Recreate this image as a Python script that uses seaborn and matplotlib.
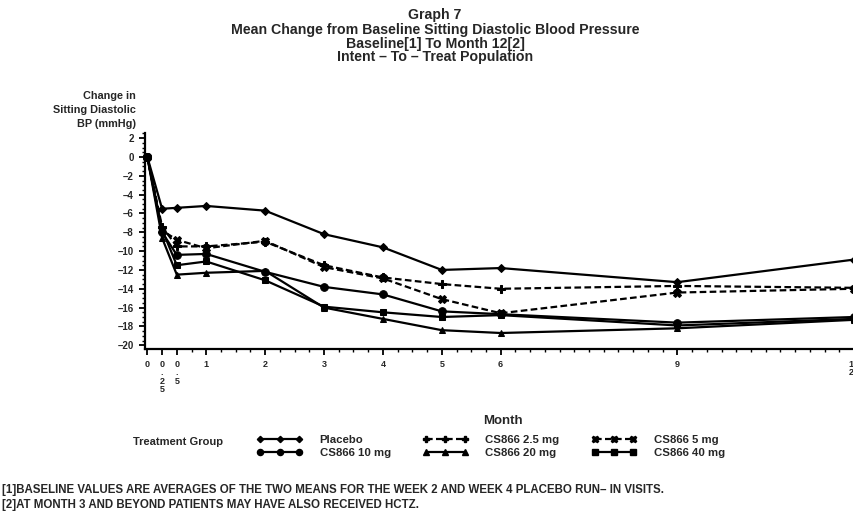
import numpy as np
import pandas as pd
import matplotlib
matplotlib.use("Agg")
import matplotlib.pyplot as plt
from matplotlib.lines import Line2D
from matplotlib.ticker import MultipleLocator
import seaborn as sns

# Visit months (baseline, weeks 1 and 2, then monthly visits)
months = [0, 0.25, 0.5, 1, 2, 3, 4, 5, 6, 9, 12]

# Mean change from baseline in sitting diastolic BP (mmHg)
placebo = [0, -5.5, -5.4, -5.2, -5.7, -8.2, -9.6, -12.0, -11.8, -13.3, -10.9]
cs866_2_5 = [0, -7.4, -9.5, -9.5, -9.0, -11.5, -12.8, -13.5, -14.0, -13.7, -13.9]
cs866_5 = [0, -7.8, -8.8, -9.7, -8.9, -11.7, -12.9, -15.1, -16.6, -14.4, -14.0]
cs866_10 = [0, -8.0, -10.4, -10.3, -12.2, -13.8, -14.6, -16.4, -16.7, -17.6, -17.0]
cs866_20 = [0, -8.6, -12.5, -12.3, -12.1, -16.0, -17.2, -18.4, -18.7, -18.2, -17.3]
cs866_40 = [0, -7.7, -11.5, -11.1, -13.1, -15.9, -16.5, -17.0, -16.8, -17.9, -17.2]

groups = ["Placebo", "CS866 2.5 mg", "CS866 5 mg", "CS866 10 mg", "CS866 20 mg", "CS866 40 mg"]
series = [placebo, cs866_2_5, cs866_5, cs866_10, cs866_20, cs866_40]

x_tick_pos = [0, 0.25, 0.5, 1, 2, 3, 4, 5, 6, 9, 12]
x_tick_labels = ["0", "0\n.\n2\n5", "0\n.\n5", "1", "2", "3", "4", "5", "6", "9", "1\n2"]
y_ticks = list(range(-20, 3, 2))

df = pd.DataFrame({
    "Month": np.tile(months, len(groups)),
    "Change": np.concatenate(series),
    "Group": np.repeat(groups, len(months)),
})

sns.set_theme(style="ticks")
plt.rcParams["font.family"] = ["Liberation Sans", "DejaVu Sans"]
plt.rcParams["font.weight"] = "bold"

styles = {
    "Placebo":      dict(marker="D", ms=4, ls="-"),
    "CS866 2.5 mg": dict(marker="P", ms=6, ls=(0, (3, 1.5))),
    "CS866 5 mg":   dict(marker="X", ms=6, ls=(0, (3, 1.5))),
    "CS866 10 mg":  dict(marker="o", ms=5.5, ls="-"),
    "CS866 20 mg":  dict(marker="^", ms=5, ls="-"),
    "CS866 40 mg":  dict(marker="s", ms=5, ls="-"),
}

fig = plt.figure(figsize=(8.54, 5.14), dpi=100)
ax = fig.add_axes([145 / 854, 1 - 349 / 514, 1 - 145 / 854, (349 - 133) / 514])

for g in groups:
    st = styles[g]
    sns.lineplot(data=df[df["Group"] == g], x="Month", y="Change", ax=ax,
                 color="black", lw=1.6, linestyle=st["ls"], marker=st["marker"],
                 markersize=st["ms"], markeredgecolor="black", markerfacecolor="black",
                 legend=False, clip_on=False)

ax.set_xlim(-0.04, 12.0)
ax.set_ylim(-20.4, 2.55)
ax.set_xlabel("")
ax.set_ylabel("")
for side in ("top", "right"):
    ax.spines[side].set_visible(False)
for side in ("left", "bottom"):
    ax.spines[side].set_linewidth(1.6)
    ax.spines[side].set_color("black")

ax.set_xticks(x_tick_pos)
ax.set_xticklabels(x_tick_labels, fontsize=6.5, fontweight="bold", linespacing=0.9, va="top")
ax.get_xticklabels()[-1].set_ha("right")
ax.xaxis.set_minor_locator(MultipleLocator(0.25))
ax.set_yticks(y_ticks)
ax.set_yticklabels([str(v) if v >= 0 else "\u2013" + str(-v) for v in y_ticks],
                   fontsize=7, fontweight="bold")
ax.yaxis.set_minor_locator(MultipleLocator(0.5))
ax.tick_params(axis="both", which="major", length=4, width=1.3, color="black", pad=4)
ax.tick_params(axis="both", which="minor", length=2.5, width=1.0, color="black")
ax.tick_params(axis="x", pad=4)

# Titles
title_lines = [
    ("Graph 7", 15),
    ("Mean Change from Baseline Sitting Diastolic Blood Pressure", 30),
    ("Baseline[1] To Month 12[2]", 44),
    ("Intent \u2013 To \u2013 Treat Population", 57),
]
for txt, ypx in title_lines:
    fig.text(435 / 854, 1 - ypx / 514, txt, ha="center", va="center",
             fontsize=10.2, fontweight="bold")

# Y-axis caption
for txt, ypx in [("Change in", 96), ("Sitting Diastolic", 110), ("BP (mmHg)", 124)]:
    fig.text(136 / 854, 1 - ypx / 514, txt, ha="right", va="center",
             fontsize=7.8, fontweight="bold")

# X-axis caption
fig.text(503 / 854, 1 - 421 / 514, "Month", ha="center", va="center",
         fontsize=9.5, fontweight="bold")

# Legend
fig.text(133 / 854, 1 - 442 / 514, "Treatment Group", ha="left", va="center",
         fontsize=8, fontweight="bold")
order = ["Placebo", "CS866 10 mg", "CS866 2.5 mg", "CS866 20 mg", "CS866 5 mg", "CS866 40 mg"]
handles = [Line2D([], [], color="black", lw=1.6, linestyle=styles[g]["ls"],
                  marker=styles[g]["marker"], markersize=styles[g]["ms"] * 0.8)
           for g in order]
fig.legend(handles, order, ncol=3, loc="upper left",
           bbox_to_anchor=(257 / 854, 1 - 435 / 514), frameon=False,
           prop=dict(size=8.2, weight="bold"), handlelength=4.0, handletextpad=1.5,
           columnspacing=2.8, labelspacing=0.25, numpoints=3, borderaxespad=0,
           borderpad=0)

# Footnotes
fig.text(2 / 854, 1 - 490 / 514,
         "[1]BASELINE VALUES ARE AVERAGES OF THE TWO MEANS FOR THE WEEK 2 AND WEEK 4 PLACEBO RUN\u2013 IN VISITS.",
         ha="left", va="center", fontsize=8.3, fontweight="bold")
fig.text(2 / 854, 1 - 505 / 514,
         "[2]AT MONTH 3 AND BEYOND PATIENTS MAY HAVE ALSO RECEIVED HCTZ.",
         ha="left", va="center", fontsize=8.3, fontweight="bold")

fig.savefig("out.png", dpi=100)
